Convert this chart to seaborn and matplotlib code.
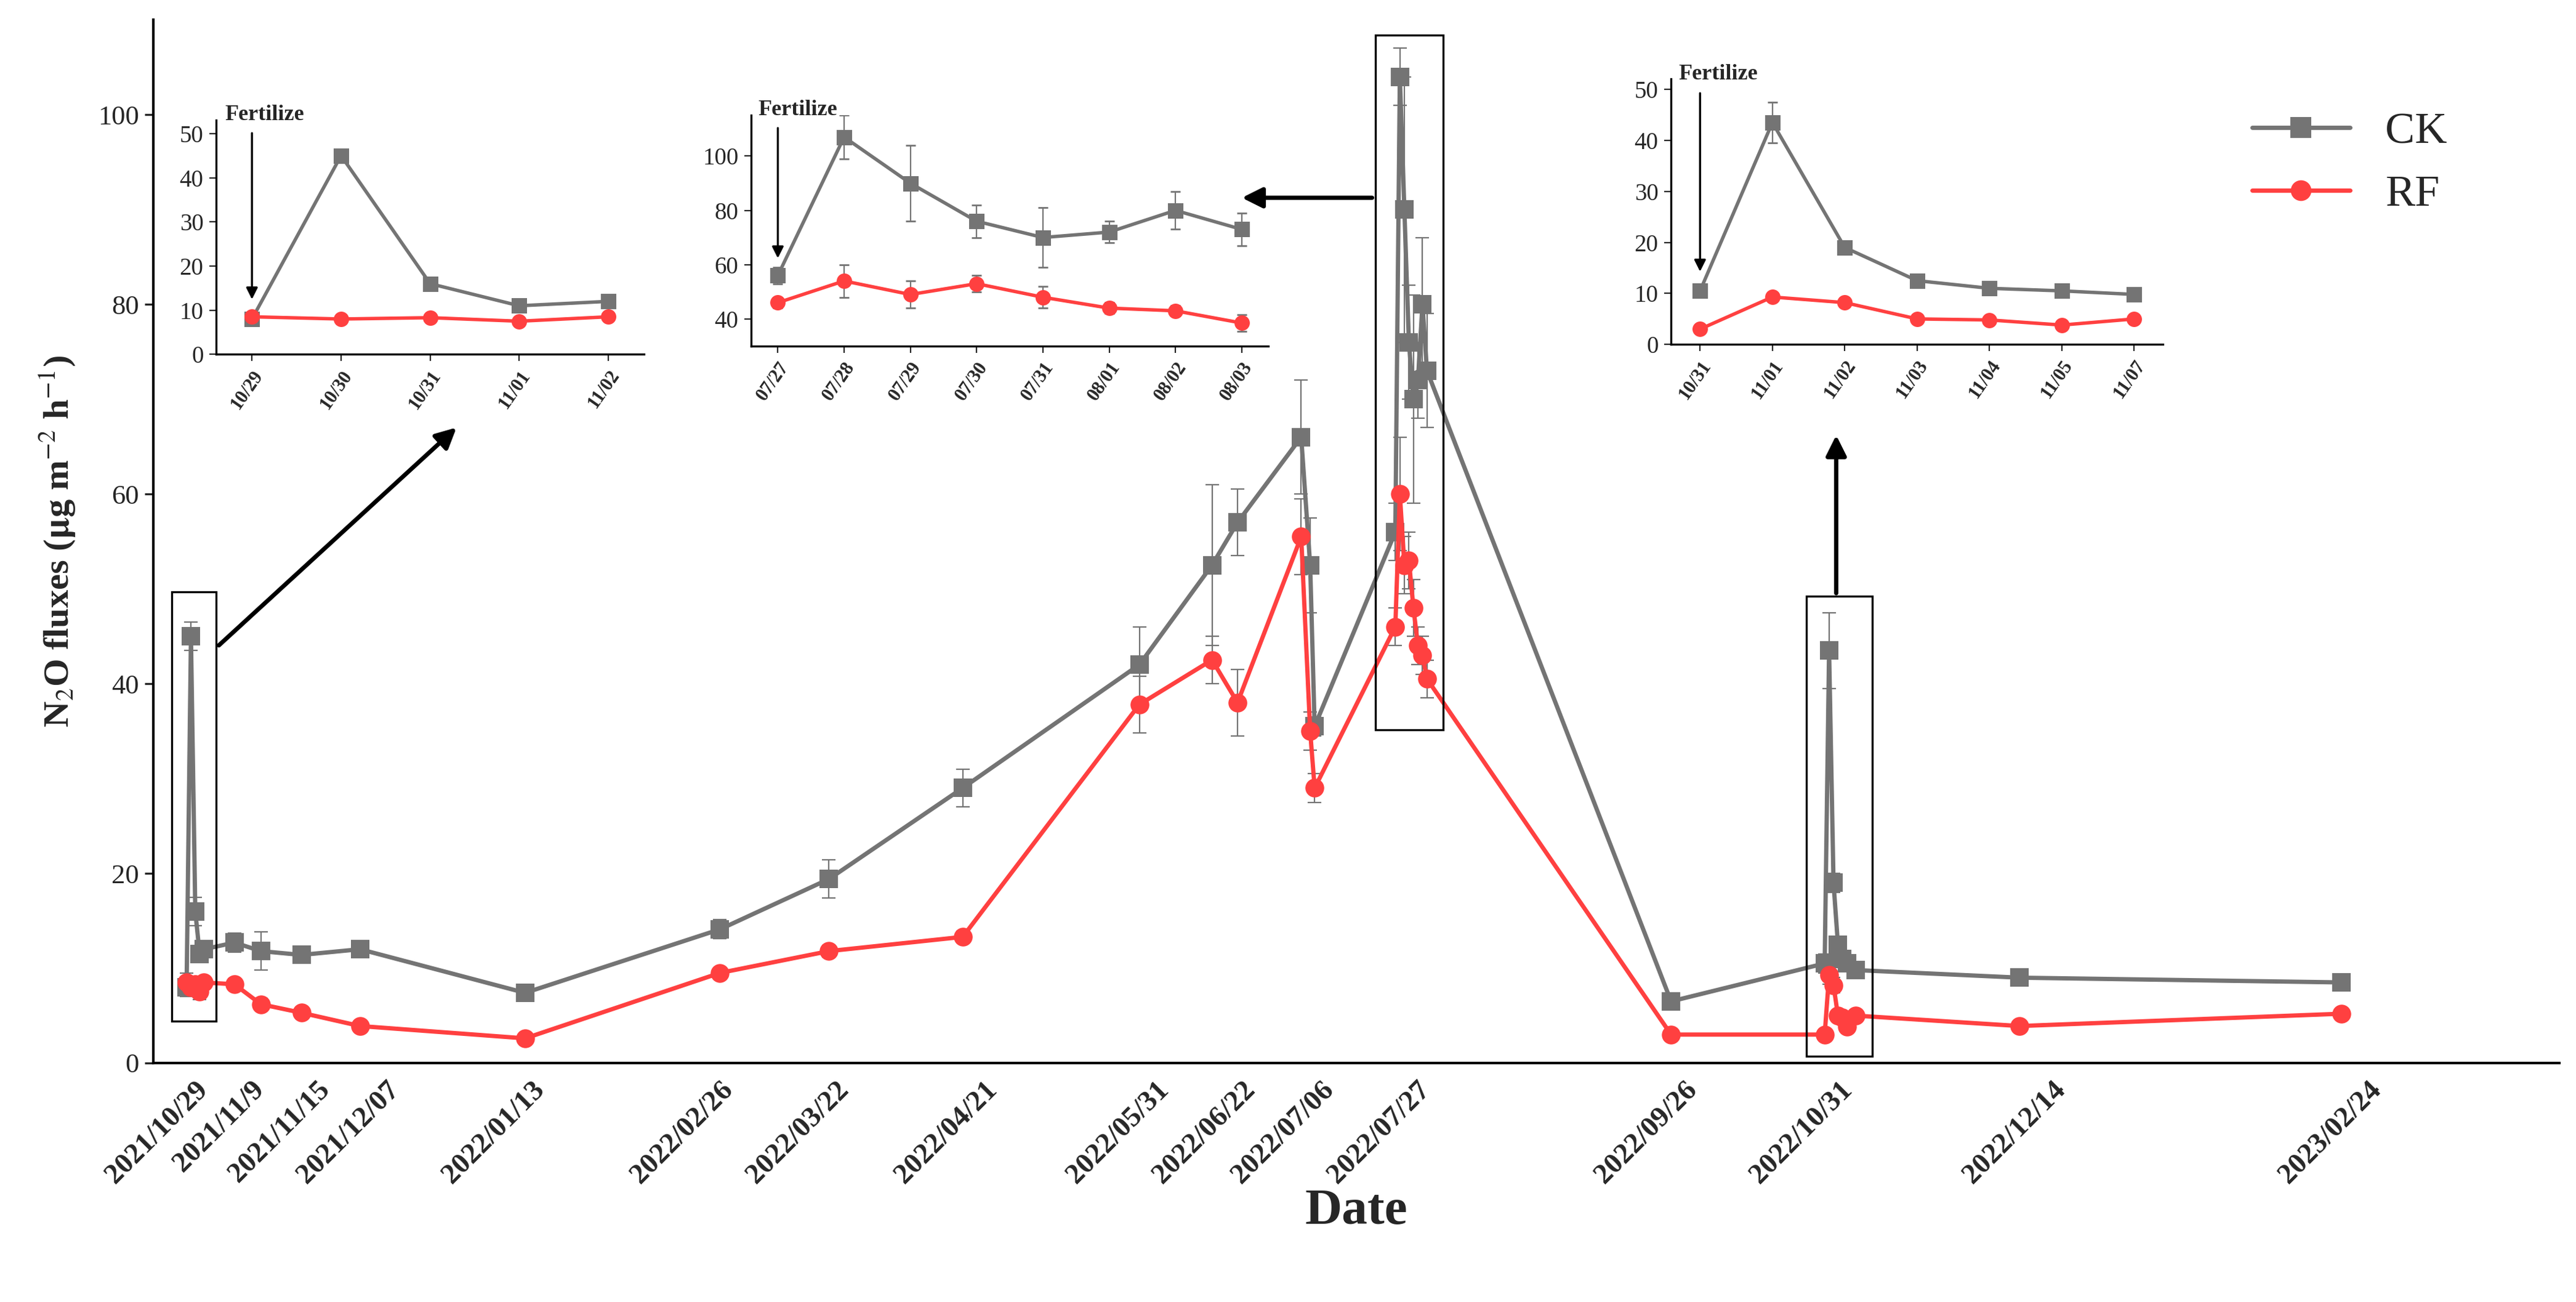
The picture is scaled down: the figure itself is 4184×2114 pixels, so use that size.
import numpy as np
import pandas as pd
import seaborn as sns
import matplotlib.pyplot as plt

# --- data ---
dates = ['2021-10-29', '2021-10-30', '2021-10-31', '2021-11-01', '2021-11-02',
         '2021-11-09', '2021-11-15', '2021-11-24', '2021-12-07', '2022-01-13',
         '2022-02-26', '2022-03-22', '2022-04-21', '2022-05-31', '2022-06-22',
         '2022-06-26', '2022-07-06', '2022-07-08', '2022-07-09',
         '2022-07-27', '2022-07-28', '2022-07-29', '2022-07-30', '2022-07-31',
         '2022-08-01', '2022-08-02', '2022-08-03', '2022-09-26',
         '2022-10-31', '2022-11-01', '2022-11-02', '2022-11-03', '2022-11-04',
         '2022-11-05', '2022-11-07', '2022-12-14', '2023-02-24']
ck = [8, 45, 16, 11.5, 12, 12.7, 11.8, 11.4, 12.0, 7.4,
      14.1, 19.4, 29, 42, 52.5, 57, 66, 52.5, 35.5,
      56, 104, 90, 76, 70, 72, 80, 73, 6.5,
      10.5, 43.5, 19, 12.5, 11, 10.5, 9.8, 9, 8.5]
ck_err = [1, 1.5, 1.5, 0.8, 0.8, 1, 2, 0.8, 0.8, 0.5,
          1, 2, 2, 4, 8.5, 3.5, 6, 5, 1,
          3, 3, 14, 6, 11, 4, 7, 6, 0.5,
          1, 4, 1, 0.8, 0.6, 0.5, 0.5, 0.5, 0.5]
rf = [8.5, 8, 8.3, 7.5, 8.5, 8.3, 6.2, 5.3, 3.9, 2.6,
      9.5, 11.8, 13.3, 37.8, 42.5, 38, 55.5, 35, 29,
      46, 60, 52.5, 53, 48, 44, 43, 40.5, 3,
      3, 9.3, 8.2, 5, 4.8, 3.8, 5, 3.9, 5.2]
rf_err = [1, 0.8, 0.8, 0.8, 0.6, 0.6, 0.6, 0.5, 0.5, 0.4,
          0.5, 0.6, 0.6, 3, 2.5, 3.5, 4, 2, 1.5,
          2, 6, 3, 3, 3, 2, 2, 2, 0.4,
          0.5, 1, 0.8, 0.5, 0.5, 0.5, 0.5, 0.4, 0.4]

tick_dates = ['2021-10-29', '2021-11-09', '2021-11-15', '2021-12-07', '2022-01-13',
              '2022-02-26', '2022-03-22', '2022-04-21', '2022-05-31', '2022-06-22',
              '2022-07-06', '2022-07-27', '2022-09-26', '2022-10-31', '2022-12-14',
              '2023-02-24']
tick_labels = ['2021/10/29', '2021/11/9', '2021/11/15', '2021/12/07', '2022/01/13',
               '2022/02/26', '2022/03/22', '2022/04/21', '2022/05/31', '2022/06/22',
               '2022/07/06', '2022/07/27', '2022/09/26', '2022/10/31', '2022/12/14',
               '2023/02/24']
# the original axis is not linear in time: anchor positions of each tick date
tick_pos = [113, 142, 158, 218, 318, 436, 502, 583, 690, 734, 788, 845,
            1012, 1105, 1223, 1418]
# label anchors (the rotated labels sit a little right of the points)
label_pos = [118, 152, 192, 234, 322, 436, 506, 596, 700, 752, 800, 858,
             1020, 1114, 1243, 1434]

# inset data
in1_lab = ['10/29', '10/30', '10/31', '11/01', '11/02']
in1_ck = [8, 45, 16, 11, 12]
in1_ck_err = [0.8, 1.5, 0.8, 0.6, 0.6]
in1_rf = [8.5, 8, 8.3, 7.5, 8.5]
in2_lab = ['07/27', '07/28', '07/29', '07/30', '07/31', '08/01', '08/02', '08/03']
in2_ck = [56, 107, 90, 76, 70, 72, 80, 73]
in2_ck_err = [3, 8, 14, 6, 11, 4, 7, 6]
in2_rf = [46, 54, 49, 53, 48, 44, 43, 38.5]
in2_rf_err = [2, 6, 5, 3, 4, 2, 2, 3]
in3_lab = ['10/31', '11/01', '11/02', '11/03', '11/04', '11/05', '11/07']
in3_ck = [10.5, 43.5, 19, 12.5, 11, 10.5, 9.8]
in3_ck_err = [0.8, 4, 1, 0.8, 0.6, 0.5, 0.5]
in3_rf = [3, 9.3, 8.2, 5, 4.8, 3.8, 5]

GREY = '#747474'
RED = '#ff4040'

sns.set_style('white')
plt.rcParams['font.family'] = ['Liberation Serif', 'DejaVu Serif']
plt.rcParams['mathtext.fontset'] = 'stix'


def to_days(d):
    return (pd.to_datetime(d) - pd.Timestamp('2021-10-29')).days.values


tick_days = to_days(tick_dates)
df = pd.DataFrame({'x': np.interp(to_days(dates), tick_days, tick_pos),
                   'CK': ck, 'CK_err': ck_err, 'RF': rf, 'RF_err': rf_err})

fig = plt.figure(figsize=(20.92, 10.57), dpi=200)
W, H = 1560, 790
ax = fig.add_axes([93 / W, 1 - 645 / H, (1550 - 93) / W, (645 - 12) / H])

for col, c, m in [('CK', GREY, 's'), ('RF', RED, 'o')]:
    ax.errorbar(df['x'], df[col], yerr=df[col + '_err'], fmt='none', ecolor=GREY,
                elinewidth=0.8, capsize=4, capthick=0.8, zorder=2)
    sns.lineplot(data=df, x='x', y=col, ax=ax, color=c, marker=m, markersize=11,
                 markeredgewidth=0, linewidth=2.5, label=col, zorder=3, sort=False)

ax.set_xlim(93, 1550)
ax.set_ylim(0, 110)
ax.set_yticks([0, 20, 40, 60, 80, 100])
ax.tick_params(axis='y', labelsize=16, direction='out', length=5, width=1.2, left=True)
ax.set_xticks(label_pos)
ax.set_xticklabels(tick_labels, rotation=45, ha='right', rotation_mode='anchor',
                   fontsize=17, fontweight='bold')
ax.tick_params(axis='x', length=0, pad=8)
for s in ['top', 'right']:
    ax.spines[s].set_visible(False)
for s in ['left', 'bottom']:
    ax.spines[s].set_linewidth(1.5)
    ax.spines[s].set_color('black')
ax.set_xlabel('Date', fontsize=30, fontweight='bold', labelpad=0)
ax.set_ylabel(r'N$_2$O fluxes ($\mathbf{\mu}$g m$^{-2}$ h$^{-1}$)', fontsize=21,
              fontweight='bold', labelpad=12)
ax.legend(loc='upper right', bbox_to_anchor=(0.97, 0.95), frameon=False, fontsize=26,
          handlelength=2.2, markerscale=1.1)

# boxes around the fertilization clusters
for x0, x1, y0, y1 in [(104, 131, 4.4, 49.7), (833, 874, 35.1, 108.4), (1094, 1134, 0.7, 49.2)]:
    ax.add_patch(plt.Rectangle((x0, y0), x1 - x0, y1 - y0, fill=False, lw=1.2,
                               ec='black', zorder=5))

# arrows from boxes to insets (figure fraction)
for (sx, sy), (ex, ey) in [((131, 393), (278, 258)), ((833, 120), (750, 120)),
                           ((1112, 362), (1112, 262))]:
    fig.add_artist(plt.Annotation('', xy=(ex / W, 1 - ey / H), xytext=(sx / W, 1 - sy / H),
                                  xycoords='figure fraction', textcoords='figure fraction',
                                  arrowprops=dict(arrowstyle='-|>', lw=2.5, color='black',
                                                  mutation_scale=25)))


def inset(rect, labels, ck_v, ck_e, rf_v, rf_e, ylim, yticks):
    a = fig.add_axes(rect)
    xs = np.arange(len(labels))
    a.errorbar(xs, ck_v, yerr=ck_e, fmt='none', ecolor=GREY, elinewidth=0.8, capsize=3)
    if rf_e is not None:
        a.errorbar(xs, rf_v, yerr=rf_e, fmt='none', ecolor=GREY, elinewidth=0.8, capsize=3)
    sns.lineplot(x=xs, y=ck_v, ax=a, color=GREY, marker='s', markersize=9,
                 markeredgewidth=0, linewidth=2)
    sns.lineplot(x=xs, y=rf_v, ax=a, color=RED, marker='o', markersize=9,
                 markeredgewidth=0, linewidth=2)
    a.set_xlim(-0.4, len(labels) - 0.6)
    a.set_ylim(*ylim)
    a.set_yticks(yticks)
    a.set_xticks(xs)
    a.set_xticklabels(labels, rotation=55, ha='right', rotation_mode='anchor',
                      fontsize=11, fontweight='bold')
    a.tick_params(axis='y', labelsize=14, left=True, length=4)
    a.tick_params(axis='x', bottom=True, length=4)
    for s in ['top', 'right']:
        a.spines[s].set_visible(False)
    for s in ['left', 'bottom']:
        a.spines[s].set_linewidth(1.2)
        a.spines[s].set_color('black')
    a.set_xlabel('')
    a.set_ylabel('')
    span = ylim[1] - ylim[0]
    a.text(-0.3, ylim[1] - span * 0.02, 'Fertilize', ha='left', va='bottom',
           fontsize=13, fontweight='bold')
    a.annotate('', xy=(0, max(ck_v[0], rf_v[0]) + span * 0.06),
               xytext=(0, ylim[1] - span * 0.04),
               arrowprops=dict(arrowstyle='-|>', lw=1.2, color='black', mutation_scale=14))
    return a


inset([131 / W, 1 - 215 / H, 259 / W, 142 / H], in1_lab, in1_ck, in1_ck_err, in1_rf, None,
      (0, 53), [0, 10, 20, 30, 40, 50])
inset([455 / W, 1 - 210 / H, 313 / W, 140 / H], in2_lab, in2_ck, in2_ck_err, in2_rf, in2_rf_err,
      (30, 115), [40, 60, 80, 100])
inset([1012 / W, 1 - 209 / H, 298 / W, 161 / H], in3_lab, in3_ck, in3_ck_err, in3_rf, None,
      (0, 52), [0, 10, 20, 30, 40, 50])

fig.savefig('out.png', dpi=200)
